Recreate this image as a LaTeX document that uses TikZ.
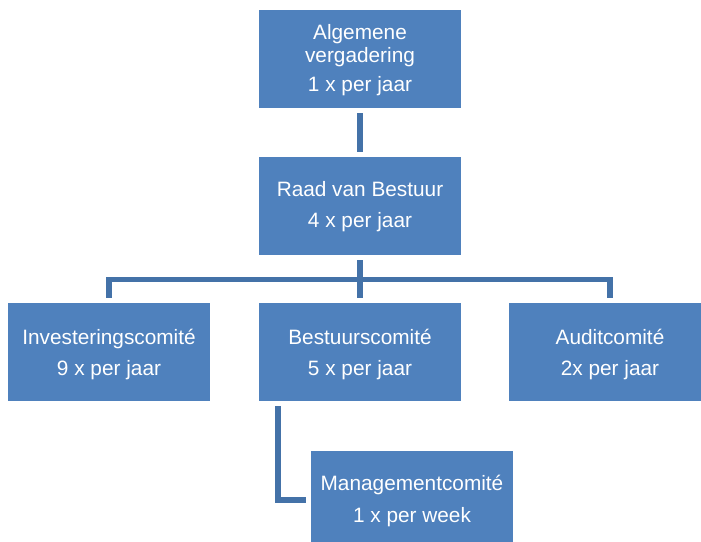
\documentclass[tikz,border=0pt]{standalone}
\usepackage{fontspec}
\setmainfont{Liberation Sans}
\definecolor{boxblue}{RGB}{79,129,189}
\definecolor{lineblue}{RGB}{68,114,168}
\begin{document}
\begin{tikzpicture}[x=1pt,y=-1pt,
  orgbox/.style={rectangle,fill=boxblue,draw=none,minimum width=202pt,minimum height=98pt,inner sep=0pt},
  txt/.style={anchor=base,inner sep=0pt,text=white,font=\fontsize{20.8}{24}\selectfont},
  conn/.style={draw=lineblue,line width=5.5pt}]
\useasboundingbox (0,0) rectangle (701,541);
\clip (0,0) rectangle (701,541);

% boxes
\node[orgbox] (av)  at (360,59)  {};
\node[orgbox] (rvb) at (360,206) {};
\node[orgbox] (inv) at (109,352) {};
\node[orgbox] (bc)  at (360,352) {};
\node[orgbox] (ac)  at (610,352) {};
\node[orgbox] (mg)  at (412,500) {};

% labels
\node[txt] (av1) at (360,39.3) {Algemene};
\node[txt] (av2) at (360,62.3) {vergadering};
\node[txt] (av3) at (360,91.7) {1 x per jaar};
\node[txt] (rvb1) at (360,196.7) {Raad van Bestuur};
\node[txt] (rvb2) at (360,227.7) {4 x per jaar};
\node[txt] (inv1) at (109,344) {Investeringscomité};
\node[txt] (inv2) at (109,375) {9 x per jaar};
\node[txt] (bc1) at (360,344) {Bestuurscomité};
\node[txt] (bc2) at (360,375) {5 x per jaar};
\node[txt] (ac1) at (610,344) {Auditcomité};
\node[txt] (ac2) at (610,375) {2x per jaar};
\node[txt] (mg1) at (412,490) {Managementcomité};
\node[txt] (mg2) at (412,522) {1 x per week};

% connectors
\draw[conn] ([yshift=-5pt]av.south) -- ([yshift=5pt]rvb.north);
\draw[conn] ([yshift=-5pt]rvb.south) -- ([yshift=5pt]bc.north);
\draw[conn] ([yshift=5pt]inv.north) |- ([yshift=-24.5pt]rvb.south) -| ([yshift=5pt]ac.north);
\draw[conn] ([xshift=19pt,yshift=-5pt]bc.south west) |- ([xshift=-5pt]mg.west);
\end{tikzpicture}
\end{document}
